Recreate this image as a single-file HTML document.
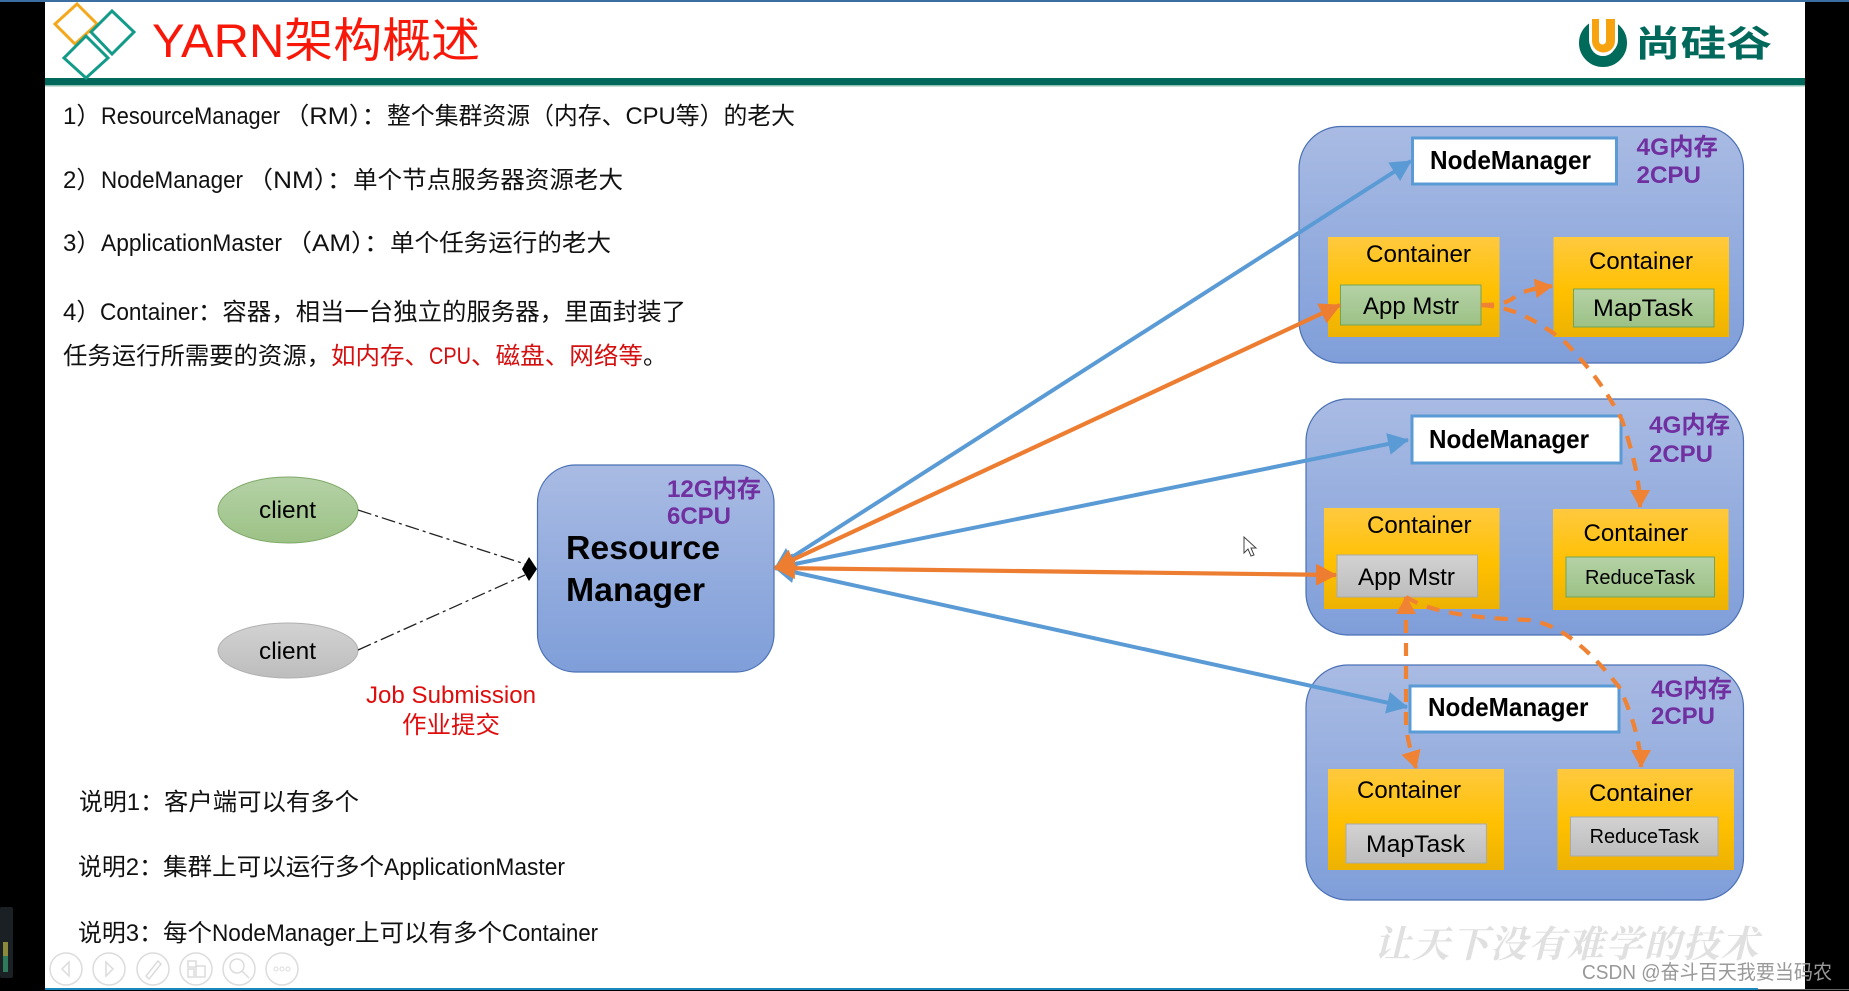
<!DOCTYPE html>
<html lang="zh-CN"><head><meta charset="utf-8"><title>YARN架构概述</title>
<style>
html,body{margin:0;padding:0;background:#000;width:1849px;height:991px;overflow:hidden}
svg{display:block;filter:blur(.35px)}
text{font-family:"Liberation Sans","Noto Sans CJK SC",sans-serif;white-space:pre}
.t{font-size:24px;fill:#111}
.r{fill:#d40f0f}
.b{font-weight:bold;fill:#000}
.c{font-size:24px;fill:#000}
.p{font-size:24px;font-weight:bold;fill:#7030a0}
</style></head><body>
<svg xmlns="http://www.w3.org/2000/svg" width="1849" height="991" viewBox="0 0 1849 991">
<defs>
<linearGradient id="bl" x1="0" y1="0" x2="0" y2="1"><stop offset="0" stop-color="#a9bbe3"/><stop offset="1" stop-color="#7f9ed9"/></linearGradient>
<linearGradient id="ye" x1="0" y1="0" x2="0" y2="1"><stop offset="0" stop-color="#ffc93f"/><stop offset=".55" stop-color="#ffc000"/><stop offset="1" stop-color="#edb202"/></linearGradient>
<linearGradient id="gr" x1="0" y1="0" x2="0" y2="1"><stop offset="0" stop-color="#b5d2a7"/><stop offset="1" stop-color="#9cc185"/></linearGradient>
<linearGradient id="gy" x1="0" y1="0" x2="0" y2="1"><stop offset="0" stop-color="#d2d2d2"/><stop offset="1" stop-color="#bdbdbd"/></linearGradient>
<marker id="hb" markerUnits="userSpaceOnUse" markerWidth="26" markerHeight="24" refX="20" refY="11" orient="auto-start-reverse"><path d="M0 0L21 11L0 22Z" fill="#5b9bd5"/></marker>
<marker id="ho" markerUnits="userSpaceOnUse" markerWidth="26" markerHeight="24" refX="20" refY="11" orient="auto-start-reverse"><path d="M0 0L21 11L0 22Z" fill="#ed7d31"/></marker>
<marker id="hd" markerUnits="userSpaceOnUse" markerWidth="24" markerHeight="22" refX="17" refY="10" orient="auto-start-reverse"><path d="M0 0L18 10L0 20Z" fill="#f08234"/></marker>
</defs>

<rect x="0" y="0" width="1849" height="991" fill="#000"/>
<rect x="45" y="0" width="1760" height="989" fill="#fff"/>
<rect x="0" y="0" width="1849" height="2" fill="#3b6ea3"/>
<rect x="45" y="78" width="1760" height="7" fill="#00695c"/>
<rect x="45" y="85" width="1760" height="1.5" fill="#8fc0b6"/>
<rect x="45" y="988" width="1713" height="2" fill="#1b87bd"/>
<rect x="1758" y="989" width="91" height="1" fill="#666"/>

<!-- header icon -->
<path d="M77 4L97 24L75 44L55 24Z" fill="none" stroke="#f5a81c" stroke-width="3"/>
<path d="M112 11L134 32L112 54L91 32Z" fill="#fff" stroke="#139b8a" stroke-width="3"/>
<path d="M86 36L108 58L86 78L64 58Z" fill="#fff" stroke="#139b8a" stroke-width="3"/>
<text x="152" y="57" font-size="47" fill="#f8180a" textLength="328" lengthAdjust="spacingAndGlyphs">YARN架构概述</text>

<!-- logo -->
<circle cx="1603" cy="43" r="18.5" fill="none" stroke="#006a5b" stroke-width="11"/>
<path d="M1589 19H1618V40A14.500 14.500 0 0 1 1589 40Z" fill="#fff"/>
<path d="M1592 19H1615V41A11.500 11.500 0 0 1 1592 41Z" fill="#f7a30f"/>
<path d="M1599 19H1606V41A3.500 3.500 0 0 1 1599 41Z" fill="#fff"/>
<text x="1635" y="56" font-size="36" font-weight="bold" fill="#00695c" textLength="137" lengthAdjust="spacingAndGlyphs" style="font-family:'Noto Sans CJK SC',sans-serif">尚硅谷</text>

<!-- top text -->
<text class="t" x="63" y="124">1）</text>
<text class="t" x="101" y="124" textLength="179" lengthAdjust="spacingAndGlyphs">ResourceManager</text>
<text class="t" x="284" y="124" textLength="103" lengthAdjust="spacingAndGlyphs">（RM）：</text>
<text class="t" x="387" y="124" textLength="408" lengthAdjust="spacingAndGlyphs">整个集群资源（内存、CPU等）的老大</text>

<text class="t" x="63" y="188">2）</text>
<text class="t" x="101" y="188" textLength="142" lengthAdjust="spacingAndGlyphs">NodeManager</text>
<text class="t" x="247" y="188" textLength="106" lengthAdjust="spacingAndGlyphs">（NM）：</text>
<text class="t" x="353" y="188" textLength="270" lengthAdjust="spacingAndGlyphs">单个节点服务器资源老大</text>

<text class="t" x="63" y="251">3）</text>
<text class="t" x="101" y="251" textLength="181" lengthAdjust="spacingAndGlyphs">ApplicationMaster</text>
<text class="t" x="286" y="251" textLength="104" lengthAdjust="spacingAndGlyphs">（AM）：</text>
<text class="t" x="390" y="251" textLength="221" lengthAdjust="spacingAndGlyphs">单个任务运行的老大</text>

<text class="t" x="63" y="320">4）</text>
<text class="t" x="100" y="320" textLength="98" lengthAdjust="spacingAndGlyphs">Container</text>
<text class="t" x="198" y="320" textLength="488" lengthAdjust="spacingAndGlyphs">：容器，相当一台独立的服务器，里面封装了</text>

<text class="t" x="63" y="364" textLength="268" lengthAdjust="spacingAndGlyphs">任务运行所需要的资源，</text>
<text class="t r" x="331" y="364" textLength="98" lengthAdjust="spacingAndGlyphs">如内存、</text>
<text class="t r" x="429" y="364" textLength="42" lengthAdjust="spacingAndGlyphs">CPU</text>
<text class="t r" x="471" y="364" textLength="172" lengthAdjust="spacingAndGlyphs">、磁盘、网络等</text>
<text class="t" x="643" y="364">。</text>

<!-- bottom text -->
<text class="t" x="79" y="810" textLength="85" lengthAdjust="spacingAndGlyphs">说明1：</text>
<text class="t" x="164" y="810" textLength="195" lengthAdjust="spacingAndGlyphs">客户端可以有多个</text>
<text class="t" x="78" y="875" textLength="85" lengthAdjust="spacingAndGlyphs">说明2：</text>
<text class="t" x="163" y="875" textLength="221" lengthAdjust="spacingAndGlyphs">集群上可以运行多个</text>
<text class="t" x="384" y="875" textLength="181" lengthAdjust="spacingAndGlyphs">ApplicationMaster</text>
<text class="t" x="78" y="941" textLength="85" lengthAdjust="spacingAndGlyphs">说明3：</text>
<text class="t" x="163" y="941" textLength="49" lengthAdjust="spacingAndGlyphs">每个</text>
<text class="t" x="212" y="941" textLength="143" lengthAdjust="spacingAndGlyphs">NodeManager</text>
<text class="t" x="355" y="941" textLength="147" lengthAdjust="spacingAndGlyphs">上可以有多个</text>
<text class="t" x="502" y="941" textLength="96" lengthAdjust="spacingAndGlyphs">Container</text>

<!-- clients -->
<ellipse cx="288" cy="510" rx="70" ry="33" fill="url(#gr)" stroke="#7fa968" stroke-width="1"/>
<text class="c" x="259" y="518" textLength="57" lengthAdjust="spacingAndGlyphs">client</text>
<ellipse cx="288" cy="650.500" rx="70" ry="27.500" fill="url(#gy)" stroke="#b0b0b0" stroke-width="1"/>
<text class="c" x="259" y="659" textLength="57" lengthAdjust="spacingAndGlyphs">client</text>
<path d="M358 510L525 564" stroke="#222" stroke-width="1.300" stroke-dasharray="14 4 3 4" fill="none"/>
<path d="M358 650L525 575" stroke="#222" stroke-width="1.300" stroke-dasharray="14 4 3 4" fill="none"/>
<path d="M529 557L537 569L529 581L522 569Z" fill="#000"/>
<text x="366" y="703" font-size="24" fill="#e00c0c" textLength="170" lengthAdjust="spacingAndGlyphs">Job Submission</text>
<text x="402" y="733" font-size="24" fill="#e00c0c" textLength="98" lengthAdjust="spacingAndGlyphs">作业提交</text>

<!-- resource manager -->
<rect x="537.500" y="465" width="236.500" height="207" rx="38" ry="38" fill="url(#bl)" stroke="#4a70b5" stroke-width="1.200"/>
<text class="p" x="667" y="497" textLength="94" lengthAdjust="spacingAndGlyphs">12G内存</text>
<text class="p" x="667" y="524" textLength="64" lengthAdjust="spacingAndGlyphs">6CPU</text>
<text class="b" x="566" y="559" font-size="33" textLength="154" lengthAdjust="spacingAndGlyphs">Resource</text>
<text class="b" x="566" y="601" font-size="33" textLength="139" lengthAdjust="spacingAndGlyphs">Manager</text>

<!-- node 1 -->
<rect x="1299" y="126.500" width="444.500" height="236.500" rx="42" ry="42" fill="url(#bl)" stroke="#4a70b5" stroke-width="1.200"/>
<rect x="1412.500" y="138" width="204" height="46" fill="#fff" stroke="#5b9bd5" stroke-width="3"/>
<text class="b" x="1430" y="169" font-size="26" textLength="161" lengthAdjust="spacingAndGlyphs">NodeManager</text>
<text class="p" x="1636.500" y="155" textLength="81.500" lengthAdjust="spacingAndGlyphs">4G内存</text>
<text class="p" x="1636.500" y="183" textLength="64.500" lengthAdjust="spacingAndGlyphs">2CPU</text>
<rect x="1328" y="237" width="171.500" height="100" fill="url(#ye)"/>
<text class="c" x="1366" y="262" textLength="105" lengthAdjust="spacingAndGlyphs">Container</text>
<rect x="1340.500" y="285" width="140.500" height="40" fill="url(#gr)" stroke="#74a455"/>
<text class="c" x="1363" y="314" textLength="96" lengthAdjust="spacingAndGlyphs">App Mstr</text>
<rect x="1553.500" y="237" width="175.500" height="100" fill="url(#ye)"/>
<text class="c" x="1589" y="269" textLength="104" lengthAdjust="spacingAndGlyphs">Container</text>
<rect x="1573.500" y="289" width="140.500" height="38" fill="url(#gr)" stroke="#74a455"/>
<text class="c" x="1593" y="316" textLength="100" lengthAdjust="spacingAndGlyphs">MapTask</text>

<!-- node 2 -->
<rect x="1306" y="399" width="437.500" height="236" rx="42" ry="42" fill="url(#bl)" stroke="#4a70b5" stroke-width="1.200"/>
<rect x="1412" y="416" width="209" height="47" fill="#fff" stroke="#5b9bd5" stroke-width="3"/>
<text class="b" x="1429" y="448" font-size="26" textLength="160" lengthAdjust="spacingAndGlyphs">NodeManager</text>
<text class="p" x="1649" y="433" textLength="81" lengthAdjust="spacingAndGlyphs">4G内存</text>
<text class="p" x="1649" y="462" textLength="64" lengthAdjust="spacingAndGlyphs">2CPU</text>
<rect x="1324" y="508" width="175.500" height="101" fill="url(#ye)"/>
<text class="c" x="1367" y="533" textLength="104.500" lengthAdjust="spacingAndGlyphs">Container</text>
<rect x="1337" y="555" width="140.500" height="42" fill="url(#gy)" stroke="#aaa"/>
<text class="c" x="1358" y="585" textLength="97" lengthAdjust="spacingAndGlyphs">App Mstr</text>
<rect x="1553" y="509" width="175.500" height="101" fill="url(#ye)"/>
<text class="c" x="1583.500" y="541" textLength="104.500" lengthAdjust="spacingAndGlyphs">Container</text>
<rect x="1566" y="557" width="148.500" height="40" fill="url(#gr)" stroke="#74a455"/>
<text class="c" x="1585" y="584" style="font-size:20px" textLength="110" lengthAdjust="spacingAndGlyphs">ReduceTask</text>

<!-- node 3 -->
<rect x="1306" y="665" width="437.500" height="235" rx="42" ry="42" fill="url(#bl)" stroke="#4a70b5" stroke-width="1.200"/>
<rect x="1410" y="686" width="209" height="46" fill="#fff" stroke="#5b9bd5" stroke-width="3"/>
<text class="b" x="1428" y="716" font-size="26" textLength="160.400" lengthAdjust="spacingAndGlyphs">NodeManager</text>
<text class="p" x="1651" y="697" textLength="81" lengthAdjust="spacingAndGlyphs">4G内存</text>
<text class="p" x="1651" y="724" textLength="64" lengthAdjust="spacingAndGlyphs">2CPU</text>
<rect x="1328" y="769" width="176" height="101" fill="url(#ye)"/>
<text class="c" x="1357" y="798" textLength="104" lengthAdjust="spacingAndGlyphs">Container</text>
<rect x="1346" y="824" width="140.400" height="39" fill="url(#gy)" stroke="#aaa"/>
<text class="c" x="1366" y="852" textLength="99" lengthAdjust="spacingAndGlyphs">MapTask</text>
<rect x="1557.500" y="769" width="176.500" height="101" fill="url(#ye)"/>
<text class="c" x="1589" y="801" textLength="104" lengthAdjust="spacingAndGlyphs">Container</text>
<rect x="1570.500" y="817" width="147.500" height="39" fill="url(#gy)" stroke="#aaa"/>
<text class="c" x="1589.600" y="843" style="font-size:20px" textLength="109.400" lengthAdjust="spacingAndGlyphs">ReduceTask</text>

<!-- blue arrows -->
<path d="M775 568L1411 161" stroke="#5b9bd5" stroke-width="4" fill="none" marker-start="url(#hb)" marker-end="url(#hb)"/>
<path d="M775 568L1408 440" stroke="#5b9bd5" stroke-width="4" fill="none" marker-start="url(#hb)" marker-end="url(#hb)"/>
<path d="M775 568L1407 707" stroke="#5b9bd5" stroke-width="4" fill="none" marker-start="url(#hb)" marker-end="url(#hb)"/>
<!-- orange arrows -->
<path d="M775 568L1340 305" stroke="#ed7d31" stroke-width="4.200" fill="none" marker-start="url(#ho)" marker-end="url(#ho)"/>
<path d="M775 568L1336 575" stroke="#ed7d31" stroke-width="4.200" fill="none" marker-start="url(#ho)" marker-end="url(#ho)"/>

<!-- dashed orange -->
<g fill="none" stroke="#f08234" stroke-width="4.200" stroke-dasharray="13 10">
<path d="M1481 305C1500 305 1508 303 1517 295C1526 290 1538 288 1552 286" marker-end="url(#hd)"/>
<path d="M1481 305C1510 307 1530 316 1563 340C1590 368 1605 388 1622 420C1632 450 1640 480 1640 507" marker-end="url(#hd)"/>
<path d="M1406 597V720C1406 737 1412 755 1416 768" marker-start="url(#hd)" marker-end="url(#hd)"/>
<path d="M1406 597C1430 612 1470 618 1529 620C1560 624 1590 650 1619 687C1632 713 1641 745 1641 767" marker-end="url(#hd)"/>
</g>

<!-- cursor -->
<path d="M1244 537V553L1248 549L1251 556L1254 555L1251 548L1256 548Z" fill="#fff" stroke="#444" stroke-width="1"/>

<!-- watermark -->
<text x="1374" y="957" font-size="37" font-weight="bold" font-style="italic" fill="#e0e0e0" textLength="384" lengthAdjust="spacing" style="font-family:'Noto Serif CJK SC',serif">让天下没有难学的技术</text>
<text x="1582" y="979" font-size="20" fill="#999" textLength="250" lengthAdjust="spacingAndGlyphs">CSDN @奋斗百天我要当码农</text>

<!-- toolbar -->
<g fill="none" stroke="#dcdcdc" stroke-width="1.500">
<circle cx="66" cy="969" r="16"/><circle cx="109" cy="969" r="16"/><circle cx="153" cy="969" r="16"/><circle cx="196" cy="969" r="16"/><circle cx="239" cy="969" r="16"/><circle cx="282" cy="969" r="16"/>
<path d="M69 962L62 969L69 976Z"/><path d="M106 962L113 969L106 976Z"/>
<path d="M146 976L158 961L161 964L149 979Z"/>
<rect x="188" y="961" width="8" height="6"/><rect x="188" y="969" width="6" height="8"/><rect x="196" y="966" width="9" height="11"/>
<circle cx="237" cy="966" r="7"/><path d="M242 971L249 978"/>
<circle cx="276" cy="969" r="2" stroke-width="1"/><circle cx="282" cy="969" r="2" stroke-width="1"/><circle cx="288" cy="969" r="2" stroke-width="1"/>
</g>

<!-- meter -->
<rect x="0" y="907" width="13" height="71" rx="2" fill="#1b2024"/>
<rect x="3" y="942" width="5" height="14" fill="#8a8a3a"/>
<rect x="3" y="956" width="5" height="16" fill="#2f7a5a"/>
</svg>
</body></html>
